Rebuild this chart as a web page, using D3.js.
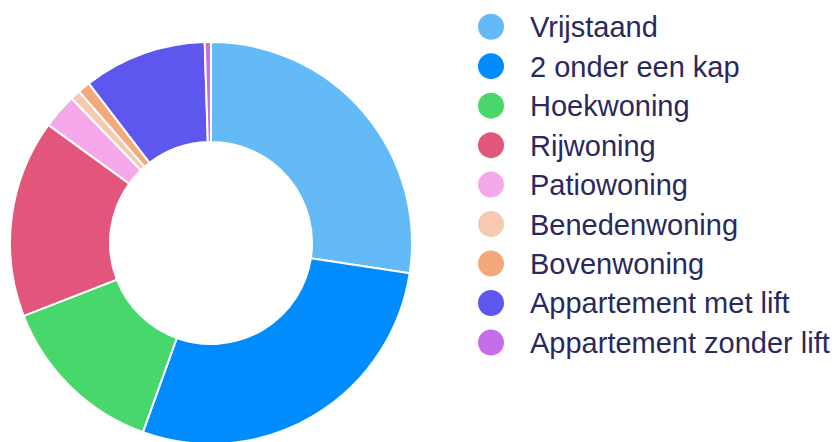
<!DOCTYPE html>
<html>
<head>
<meta charset="utf-8">
<script src="https://cdn.jsdelivr.net/npm/d3@7"></script>
<style>
  html, body { margin: 0; padding: 0; background: #ffffff; }
  svg { display: block; }
  text { font-family: "Liberation Sans", Arial, sans-serif; }
</style>
</head>
<body>
<svg id="chart" width="836" height="442"></svg>
<script>
const categories = ["Vrijstaand", "2 onder een kap", "Hoekwoning", "Rijwoning", "Patiowoning",
  "Benedenwoning", "Bovenwoning", "Appartement met lift", "Appartement zonder lift"];
const values = [27.4, 28.1, 13.6, 15.9, 2.8, 0.8, 1.0, 9.9, 0.5];
const colors = ["#63baf6", "#008cff", "#48d76b", "#e3567b", "#f6a9ea",
  "#f7c9b1", "#f4a97b", "#5d57f0", "#c66de9"];

const svg = d3.select("#chart");
const cx = 211, cy = 243, outerR = 201, innerR = 101;

const data = categories.map((c, i) => ({ name: c, value: values[i], color: colors[i] }));
const pie = d3.pie().sort(null).value(d => d.value);
const arc = d3.arc().innerRadius(innerR).outerRadius(outerR);

const g = svg.append("g").attr("transform", `translate(${cx},${cy})`);
g.selectAll("path").data(pie(data)).join("path")
  .attr("d", arc)
  .attr("fill", d => d.data.color)
  .attr("stroke", "#ffffff")
  .attr("stroke-width", 2)
  .attr("stroke-linejoin", "round");

const y = d3.scalePoint().domain(categories).range([26.7, 342.5]);
const legend = svg.append("g");
const rows = legend.selectAll("g").data(data).join("g")
  .attr("transform", d => `translate(0,${y(d.name)})`);
rows.append("circle").attr("cx", 491).attr("cy", 0).attr("r", 13).attr("fill", d => d.color);
rows.append("text").attr("x", 530).attr("y", 0).attr("dy", "0.36em")
  .attr("font-size", 29).attr("fill", "#2a295e").text(d => d.name);
</script>
</body>
</html>
